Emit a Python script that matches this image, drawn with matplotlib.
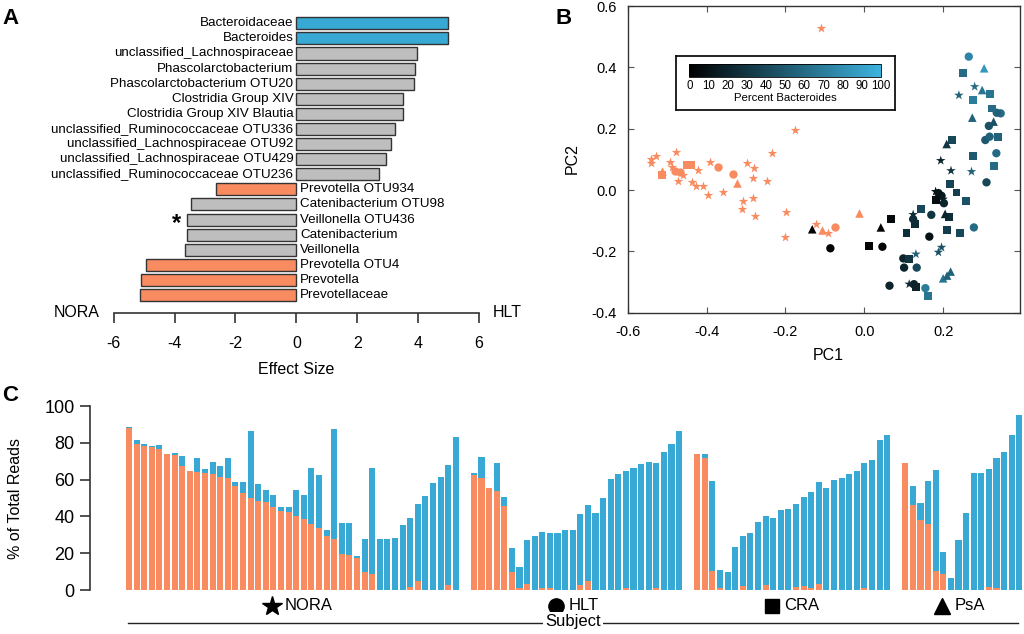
import numpy as np
import matplotlib
matplotlib.use("Agg")
import matplotlib.pyplot as plt
from matplotlib.colors import LinearSegmentedColormap, Normalize
from matplotlib.cm import ScalarMappable
import matplotlib.transforms as mtransforms

plt.rcParams['font.family'] = ['Liberation Sans', 'DejaVu Sans']

ORANGE = '#F98B60'
BLUE = '#38A9D4'
GREY = '#BEBEBE'

# ---------------- panel A data ----------------
taxa = ["Bacteroidaceae", "Bacteroides", "unclassified_Lachnospiraceae",
        "Phascolarctobacterium", "Phascolarctobacterium OTU20",
        "Clostridia Group XIV", "Clostridia Group XIV Blautia",
        "unclassified_Ruminococcaceae OTU336", "unclassified_Lachnospiraceae OTU92",
        "unclassified_Lachnospiraceae OTU429", "unclassified_Ruminococcaceae OTU236",
        "Prevotella OTU934", "Catenibacterium OTU98", "Veillonella OTU436",
        "Catenibacterium", "Veillonella", "Prevotella OTU4", "Prevotella",
        "Prevotellaceae"]
effect = [4.99, 4.99, 3.96, 3.89, 3.87, 3.51, 3.51, 3.25, 3.10, 2.95, 2.73,
          -2.65, -3.47, -3.58, -3.60, -3.65, -4.93, -5.09, -5.14]
taxon_kind = ['bact', 'bact', 'other', 'other', 'other', 'other', 'other', 'other',
              'other', 'other', 'other', 'prev', 'other', 'other', 'other', 'other',
              'prev', 'prev', 'prev']
starred = ["Veillonella OTU436"]
effect_ticks = [-6, -4, -2, 0, 2, 4, 6]
effect_ticklabels = ['-6', '-4', '-2', '0', '2', '4', '6']

# ---------------- panel B data ----------------
# Prevotella-dominated samples (drawn in orange)
nora_prev_pc1 = [-0.111, -0.176, -0.233, -0.542, -0.542, -0.528, -0.478, -0.494, -0.488,
                 -0.460, -0.472, -0.421, -0.438, -0.427, -0.408, -0.391, -0.397, -0.358,
                 -0.297, -0.280, -0.282, -0.246, -0.307, -0.283, -0.311, -0.276, -0.199,
                 -0.201, -0.122, -0.091]
nora_prev_pc2 = [0.529, 0.196, 0.121, 0.100, 0.087, 0.111, 0.123, 0.092, 0.075,
                 0.050, 0.030, 0.065, 0.025, 0.014, 0.014, 0.092, -0.016, -0.008,
                 0.087, 0.071, 0.040, 0.028, -0.035, -0.027, -0.063, -0.085, -0.071,
                 -0.154, -0.111, -0.139]
hlt_prev_pc1 = [-0.370, -0.334, -0.074, -0.480, -0.467]
hlt_prev_pc2 = [0.076, 0.051, -0.121, 0.062, 0.060]
cra_prev_pc1 = [-0.514, -0.450, -0.440]
cra_prev_pc2 = [0.049, 0.082, 0.082]
psa_prev_pc1 = [-0.013, -0.107, -0.322, -0.514]
psa_prev_pc2 = [-0.076, -0.130, 0.024, 0.062]

# remaining samples coloured by percent Bacteroides
nora_pc1 = [0.280, 0.240, 0.194, 0.220, 0.272, 0.181, 0.131, 0.196, 0.188, 0.114, 0.200, 0.124]
nora_pc2 = [0.337, 0.309, 0.096, 0.063, 0.060, -0.005, -0.209, -0.187, -0.203, -0.307, -0.030, -0.080]
nora_bact = [60, 55, 20, 30, 55, 10, 55, 45, 45, 25, 15, 30]

hlt_pc1 = [-0.086, 0.046, 0.165, 0.064, 0.196, 0.188, 0.202, 0.310, 0.170, 0.124, 0.278,
           0.099, 0.101, 0.133, 0.126, 0.155, 0.265, 0.346, 0.316, 0.307, 0.318, 0.335, 0.336]
hlt_pc2 = [-0.190, -0.185, -0.152, -0.312, -0.019, -0.010, -0.043, 0.025, -0.081, -0.095, -0.122,
           -0.223, -0.253, -0.253, -0.307, -0.320, 0.435, 0.250, 0.209, 0.163, 0.174, 0.120, 0.252]
hlt_bact = [2, 3, 10, 20, 15, 12, 20, 40, 30, 30, 60,
            20, 20, 40, 20, 70, 75, 60, 45, 50, 55, 60, 55]

cra_pc1 = [0.067, 0.012, 0.183, 0.218, 0.234, 0.259, 0.144, 0.129, 0.214, 0.107, 0.210, 0.242,
           0.113, 0.132, 0.162, 0.250, 0.319, 0.276, 0.325, 0.223, 0.339, 0.276, 0.329]
cra_pc2 = [-0.095, -0.183, -0.033, 0.021, -0.008, -0.036, -0.062, -0.111, -0.087, -0.141, -0.130, -0.141,
           -0.225, -0.317, -0.345, 0.381, 0.313, 0.294, 0.266, 0.163, 0.174, 0.112, 0.079]
cra_bact = [5, 2, 8, 38, 35, 45, 40, 25, 25, 25, 35, 40,
            30, 20, 65, 60, 65, 70, 60, 40, 55, 50, 60]

psa_pc1 = [-0.132, 0.042, 0.124, 0.205, 0.200, 0.210, 0.219, 0.304, 0.299, 0.274, 0.328, 0.209]
psa_pc2 = [-0.128, -0.122, -0.084, -0.078, -0.288, -0.279, -0.266, 0.397, 0.326, 0.236, 0.223, 0.150]
psa_bact = [2, 2, 25, 20, 65, 55, 55, 85, 65, 55, 45, 30]

# ---------------- panel C data ----------------
nora_prevotella = [88.0, 79.5, 78.4, 77.5, 76.8, 73.7, 73.2, 67.2, 64.7, 64.1, 63.4, 62.9,
                   61.2, 60.7, 56.7, 52.5, 50.2, 48.4, 48.0, 45.3, 42.9, 42.2, 40.2, 38.4,
                   35.7, 33.9, 29.5, 27.9, 19.6, 19.2, 17.2, 10.0, 8.9, 0, 0, 0, 0, 1.8,
                   5.1, 0, 0, 0, 2.5, 0]
nora_total = [88.8, 81.7, 79.5, 78.4, 79.0, 73.9, 74.3, 72.8, 64.7, 71.7, 65.6, 69.6,
              67.2, 71.7, 58.5, 58.9, 86.4, 57.6, 54.2, 51.6, 45.3, 45.3, 54.3, 51.4,
              66.5, 62.3, 32.6, 87.5, 36.6, 36.6, 18.3, 27.7, 66.1, 27.5, 27.7, 28.3, 35.5, 38.9,
              46.9, 51.1, 58.2, 61.2, 67.9, 83.3]
hlt_prevotella = [62.3, 60.7, 55.6, 54.0, 45.7, 9.8, 0.9, 3.3, 0, 1.3, 0.9, 0, 0, 0,
                  2.9, 4.7, 0, 0, 0, 0, 1.1, 0, 0, 0, 1.1, 0, 0, 0]
hlt_total = [63.4, 72.3, 55.6, 68.8, 50.5, 22.6, 12.7, 27.2, 29.2, 31.5, 31.2, 31.2, 32.8, 32.8,
             41.5, 46.4, 42.0, 49.8, 60.5, 62.9, 64.7, 66.1, 68.7, 69.4, 69.2, 74.8, 79.2, 86.2]
cra_prevotella = [73.7, 71.9, 10.3, 0.9, 0, 0, 2.4, 0, 0, 2.5, 0, 0, 0, 1.4, 2.4, 1.1,
                  3.3, 0, 0, 0, 0, 0, 1.1, 0, 0, 0]
cra_total = [73.7, 73.9, 59.2, 11.1, 10.0, 23.6, 29.5, 30.8, 36.8, 40.2, 38.9, 43.7, 44.0,
             46.7, 50.4, 53.3, 58.5, 55.4, 60.0, 61.1, 63.0, 64.9, 69.0, 70.8, 81.7, 84.1]
psa_prevotella = [69.2, 46.2, 38.2, 35.9, 10.3, 8.7, 0, 0, 0, 0, 0, 1.8, 1.3, 0, 0, 0]
psa_total = [69.2, 56.5, 47.1, 59.2, 65.2, 20.8, 6.3, 27.2, 42.0, 63.4, 63.4, 65.6,
             71.6, 75.2, 84.2, 95.1]

subjects = ['NORA', 'HLT', 'CRA', 'PsA']
subject_markers = ['*', 'o', 's', '^']

fig = plt.figure(figsize=(10.24, 6.34), dpi=100)

# ================= Panel A =================
axA = fig.add_axes([0.1110, 0.5068, 0.3568, 0.4806])
rows = np.arange(len(taxa))
kind_color = {'bact': BLUE, 'prev': ORANGE, 'other': GREY}
axA.barh(rows, effect, height=0.8, color=[kind_color[k] for k in taxon_kind],
         edgecolor='#333333', linewidth=1.0, zorder=2)
axA.set_xlim(-6, 6)
axA.set_ylim(19.17, -1.013)
for s in ['left', 'top', 'right']:
    axA.spines[s].set_visible(False)
axA.spines['bottom'].set_color('#333333')
axA.spines['bottom'].set_linewidth(1.2)
axA.set_yticks([])
axA.set_xticks(effect_ticks)
axA.set_xticklabels(effect_ticklabels)
axA.tick_params(axis='x', length=7, width=1.2, pad=10, labelsize=11.5, color='#333333')
axA.set_xlabel('Effect Size', fontsize=11.5, labelpad=8)
for i, (name, val) in enumerate(zip(taxa, effect)):
    if val > 0:
        axA.text(-0.1, i, name, ha='right', va='center', fontsize=9.6)
    else:
        axA.text(0.12, i, name, ha='left', va='center', fontsize=9.6)
    if name in starred:
        axA.text(val - 0.37, i + 0.25, '*', ha='center', va='center', fontsize=17,
                 fontweight='bold')
axA.text(-6.45, 19.17, 'NORA', ha='right', va='center', fontsize=11.5, clip_on=False)
axA.text(6.45, 19.17, 'HLT', ha='left', va='center', fontsize=11.5, clip_on=False)

# ================= Panel B =================
axB = fig.add_axes([0.6130, 0.5068, 0.3831, 0.4837])
cmap = LinearSegmentedColormap.from_list('bact', ['#000000', '#3DB2DE'])
norm = Normalize(0, 100)
prev_sets = [(nora_prev_pc1, nora_prev_pc2), (hlt_prev_pc1, hlt_prev_pc2),
             (cra_prev_pc1, cra_prev_pc2), (psa_prev_pc1, psa_prev_pc2)]
col_sets = [(nora_pc1, nora_pc2, nora_bact), (hlt_pc1, hlt_pc2, hlt_bact),
            (cra_pc1, cra_pc2, cra_bact), (psa_pc1, psa_pc2, psa_bact)]
marker_sizes = {'*': 52, 'o': 36, 's': 32, '^': 38}
for m, (px, py) in zip(subject_markers, prev_sets):
    axB.scatter(px, py, marker=m, s=marker_sizes[m], c=ORANGE, linewidths=0, zorder=2)
for m, (px, py, pb) in zip(subject_markers, col_sets):
    axB.scatter(px, py, marker=m, s=marker_sizes[m], c=pb, cmap=cmap, norm=norm,
                linewidths=0, zorder=3)
axB.set_xlim(-0.6, 0.395)
axB.set_ylim(-0.4, 0.6)
axB.set_xticks([-0.6, -0.4, -0.2, 0.0, 0.2])
axB.set_yticks([-0.4, -0.2, 0.0, 0.2, 0.4, 0.6])
axB.xaxis.set_major_formatter(matplotlib.ticker.FormatStrFormatter('%.1f'))
axB.yaxis.set_major_formatter(matplotlib.ticker.FormatStrFormatter('%.1f'))
axB.tick_params(direction='in', top=True, right=True, length=4, width=0.8,
                labelsize=10.5, color='#555555')
axB.tick_params(axis='x', pad=9)
axB.tick_params(axis='y', pad=8)
for s in axB.spines.values():
    s.set_linewidth(1.0)
    s.set_color('#333333')
axB.set_xlabel('PC1', fontsize=11.5)
axB.set_ylabel('PC2', fontsize=11.5)
axB.xaxis.set_label_coords(0.51, -0.115)
axB.yaxis.set_label_coords(-0.122, 0.503)

# colour bar legend box
box = fig.add_axes([0.6602, 0.8265, 0.2139, 0.0852])
box.set_xticks([])
box.set_yticks([])
box.set_facecolor('white')
for s in box.spines.values():
    s.set_linewidth(1.3)
    s.set_color('#111111')
cax = fig.add_axes([0.6731, 0.8781, 0.1872, 0.0205])
cb = fig.colorbar(ScalarMappable(norm=norm, cmap=cmap), cax=cax, orientation='horizontal')
cb.set_ticks(list(range(0, 101, 10)))
cb.ax.tick_params(length=0, labelsize=8.3, pad=2)
cb.outline.set_linewidth(0.6)
cb.set_label('Percent Bacteroides', fontsize=8.2, labelpad=1)

# ================= Panel C =================
axC = fig.add_axes([0.0879, 0.0694, 0.9102, 0.2902])
group_prev = [nora_prevotella, hlt_prevotella, cra_prevotella, psa_prevotella]
group_total = [nora_total, hlt_total, cra_total, psa_total]
gap = 2.38
start = 0.0
group_centers = []
for prev, tot in zip(group_prev, group_total):
    pos = start + np.arange(len(tot))
    prev = np.array(prev)
    tot = np.array(tot)
    axC.bar(pos, prev, width=0.8, color=ORANGE, linewidth=0)
    axC.bar(pos, tot - prev, bottom=prev, width=0.8, color=BLUE, linewidth=0)
    group_centers.append((pos[0] + pos[-1]) / 2)
    start = pos[-1] + gap
axC.set_xlim(-5.13, 117.5)
axC.set_ylim(0, 100)
for s in ['top', 'right', 'bottom']:
    axC.spines[s].set_visible(False)
axC.spines['left'].set_bounds(0, 100)
axC.spines['left'].set_linewidth(1.2)
axC.spines['left'].set_color('#333333')
axC.set_xticks([])
axC.set_yticks([0, 20, 40, 60, 80, 100])
axC.tick_params(axis='y', length=7, width=1.2, labelsize=13, pad=4, color='#333333')
axC.set_ylabel('% of Total Reads', fontsize=11.5)
axC.yaxis.set_label_coords(-0.0722, 0.5)

trans = mtransforms.blended_transform_factory(axC.transData, axC.transAxes)
label_marker_sizes = {'*': 15, 'o': 11, 's': 10.5, '^': 11}
for name, m, c in zip(subjects, subject_markers, group_centers):
    axC.plot([c - 2.65], [-0.085], marker=m, color='black', markersize=label_marker_sizes[m],
             linestyle='none', transform=trans, clip_on=False)
    axC.text(c - 1.05, -0.083, name, ha='left', va='center', fontsize=12,
             transform=trans, clip_on=False)
axC.plot([-0.13, 117.0], [-0.179, -0.179], color='#222222', lw=1.0,
         transform=trans, clip_on=False)
axC.text(58.4, -0.172, 'Subject', ha='center', va='center', fontsize=12, transform=trans,
         clip_on=False, bbox=dict(facecolor='white', edgecolor='none', pad=1.5))

# panel letters
fig.text(0.002, 0.988, 'A', fontsize=16, fontweight='bold', va='top', ha='left')
fig.text(0.542, 0.988, 'B', fontsize=16, fontweight='bold', va='top', ha='left')
fig.text(0.002, 0.393, 'C', fontsize=16, fontweight='bold', va='top', ha='left')

fig.savefig('out.png', dpi=100)
